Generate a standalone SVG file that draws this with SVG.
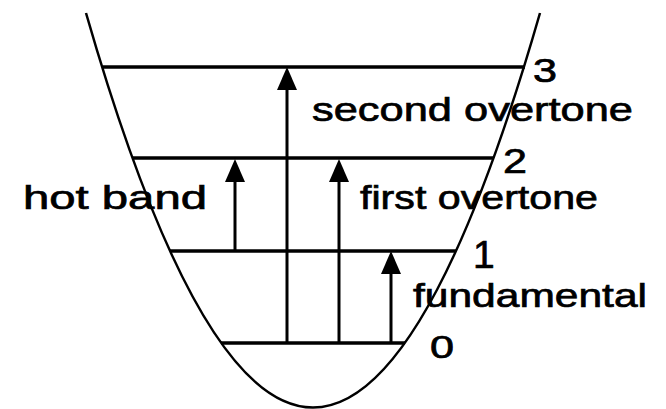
<svg xmlns="http://www.w3.org/2000/svg" width="666" height="409" viewBox="0 0 666 409">
  <style>
    .curve { fill: none; stroke: #000; stroke-width: 2.5; }
    .level { stroke: #000; stroke-width: 3.5; }
    .shaft { stroke: #000; stroke-width: 3; marker-end: url(#head); }
    .lbl { font-family: "Liberation Sans", Arial, sans-serif; font-size: 34px; fill: #000; stroke: #000; stroke-width: 0.7; }
    .num { font-family: "Liberation Sans", Arial, sans-serif; fill: #000; stroke: #000; stroke-width: 0.7; }
  </style>
  <defs>
    <marker id="head" viewBox="0 0 23 20" refX="12" refY="10" markerWidth="23" markerHeight="20" markerUnits="userSpaceOnUse" orient="auto">
      <path d="M0,0 L23,10 L0,20 z" fill="#000"/>
    </marker>
  </defs>
  <rect width="666" height="409" fill="#fff"/>

  <g id="potential">
    <path class="curve" d="M86,13 Q313,802 540,13"/>
  </g>

  <g id="levels">
    <g id="level3"><line class="level" x1="103" y1="67" x2="525" y2="67"/></g>
    <g id="level2"><line class="level" x1="133" y1="158" x2="493" y2="158"/></g>
    <g id="level1"><line class="level" x1="170" y1="251" x2="456" y2="251"/></g>
    <g id="level0"><line class="level" x1="221" y1="343" x2="405" y2="343"/></g>
  </g>

  <g id="connectors">
    <line class="shaft" x1="235" y1="251" x2="235" y2="170"/>
    <line class="shaft" x1="287" y1="343" x2="287" y2="78"/>
    <line class="shaft" x1="339" y1="343" x2="339" y2="170"/>
    <line class="shaft" x1="391" y1="343" x2="391" y2="262"/>
  </g>

  <g id="labels">
    <text class="lbl" x="312" y="121" textLength="321" lengthAdjust="spacingAndGlyphs">second  overtone</text>
    <text class="lbl" x="360" y="209" textLength="238" lengthAdjust="spacingAndGlyphs">first  overtone</text>
    <text class="lbl" x="23" y="209" textLength="184" lengthAdjust="spacingAndGlyphs">hot  band</text>
    <text class="lbl" x="413" y="307" textLength="234" lengthAdjust="spacingAndGlyphs">fundamental</text>
  </g>

  <g id="numbers">
    <text class="num" x="533" y="82" font-size="34" textLength="24" lengthAdjust="spacingAndGlyphs">3</text>
    <text class="num" x="503" y="173" font-size="35" textLength="24" lengthAdjust="spacingAndGlyphs">2</text>
    <text class="num" x="473" y="268" font-size="39">1</text>
    <text class="num" x="430" y="358" font-size="32" textLength="24" lengthAdjust="spacingAndGlyphs">0</text>
  </g>
</svg>
